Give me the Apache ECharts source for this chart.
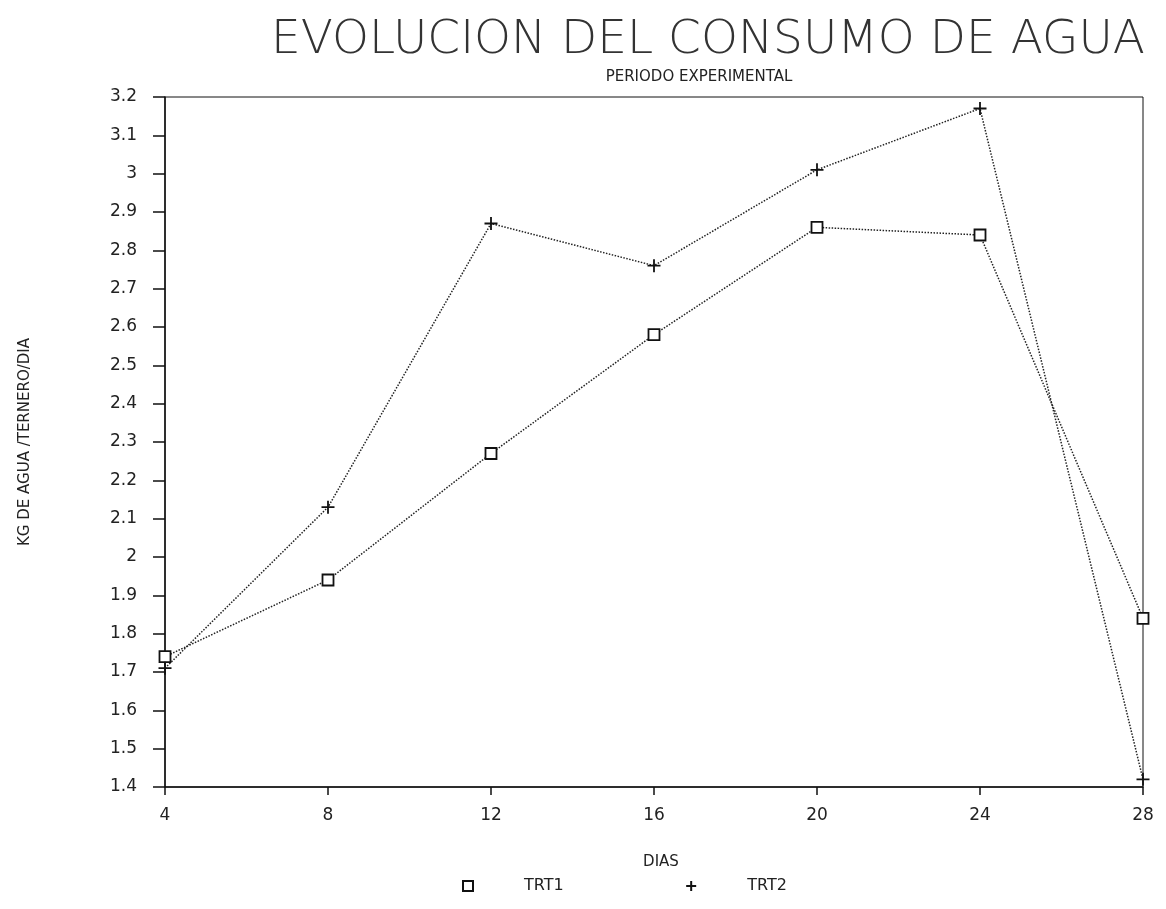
<!DOCTYPE html>
<html>
<head>
<meta charset="utf-8">
<script src="https://cdn.jsdelivr.net/npm/echarts@6/dist/echarts.min.js"></script>
<style>
html,body{margin:0;padding:0;background:#fff;}
#chart{width:1166px;height:909px;}
</style>
</head>
<body>
<div id="chart"></div>
<script>
const days = [4, 8, 12, 16, 20, 24, 28];
const trt1 = [1.74, 1.94, 2.27, 2.58, 2.86, 2.84, 1.84];
const trt2 = [1.71, 2.13, 2.87, 2.76, 3.01, 3.17, 1.42];
const seriesNames = ['TRT1', 'TRT2'];
const titleText = 'EVOLUCION DEL CONSUMO DE AGUA';
const subtitleText = 'PERIODO EXPERIMENTAL';
const xName = 'DIAS';
const yName = 'KG DE AGUA /TERNERO/DIA';

const font = 'DejaVu Sans';
const chart = echarts.init(document.getElementById('chart'));
const plusPath = 'path://M5,0 L5,10 M0,5 L10,5';

chart.setOption({
  backgroundColor: '#fff',
  animation: false,
  title: [{
    text: titleText,
    left: 703, top: 12, textAlign: 'center',
    textStyle: {fontFamily: font, fontWeight: 200, fontSize: 47, color: '#333'}
  }, {
    text: subtitleText,
    left: 694, top: 65, textAlign: 'center',
    textStyle: {fontFamily: font, fontWeight: 'normal', fontSize: 15, color: '#222'}
  }, {
    text: xName,
    left: 656, top: 850, textAlign: 'center',
    textStyle: {fontFamily: font, fontWeight: 'normal', fontSize: 15, color: '#222'}
  }],
  legend: {
    data: [{name: 'TRT1', icon: 'rect'}, {name: 'TRT2', icon: plusPath}],
    bottom: 10, left: 457,
    itemWidth: 10, itemHeight: 10, itemGap: 120,
    textStyle: {fontFamily: font, fontSize: 16, color: '#222', padding: [0, 0, 0, 46]}
  },
  grid: {left: 165, right: 23, top: 97, bottom: 122, show: true, borderColor: '#111', borderWidth: 1},
  xAxis: {
    type: 'value', min: 4, max: 28, interval: 4,
    axisLine: {show: true, lineStyle: {color: '#111', width: 1.5}},
    axisTick: {show: true, length: 8, lineStyle: {color: '#111', width: 1.5}},
    axisLabel: {fontFamily: font, fontSize: 17, color: '#222', margin: 20},
    splitLine: {show: false}
  },
  yAxis: {
    type: 'value', min: 1.4, max: 3.2, interval: 0.1,
    name: yName, nameLocation: 'middle', nameGap: 132, nameRotate: 90,
    nameTextStyle: {fontFamily: font, fontSize: 15, color: '#222'},
    axisLine: {show: true, lineStyle: {color: '#111', width: 1.5}},
    axisTick: {show: true, length: 12, lineStyle: {color: '#111', width: 1.5}},
    axisLabel: {fontFamily: font, fontSize: 17, color: '#222', margin: 28},
    splitLine: {show: false}
  },
  series: [{
    name: seriesNames[0], type: 'line',
    data: days.map((d, i) => [d, trt1[i]]),
    symbol: 'rect', symbolSize: 11,
    lineStyle: {color: '#222', width: 1.5, type: 'dotted'},
    itemStyle: {color: '#fff', borderColor: '#111', borderWidth: 1.8}
  }, {
    name: seriesNames[1], type: 'line',
    data: days.map((d, i) => [d, trt2[i]]),
    symbol: plusPath, symbolSize: 13,
    lineStyle: {color: '#222', width: 1.5, type: 'dotted'},
    itemStyle: {color: 'none', borderColor: '#111', borderWidth: 1.8}
  }]
});
</script>
</body>
</html>
